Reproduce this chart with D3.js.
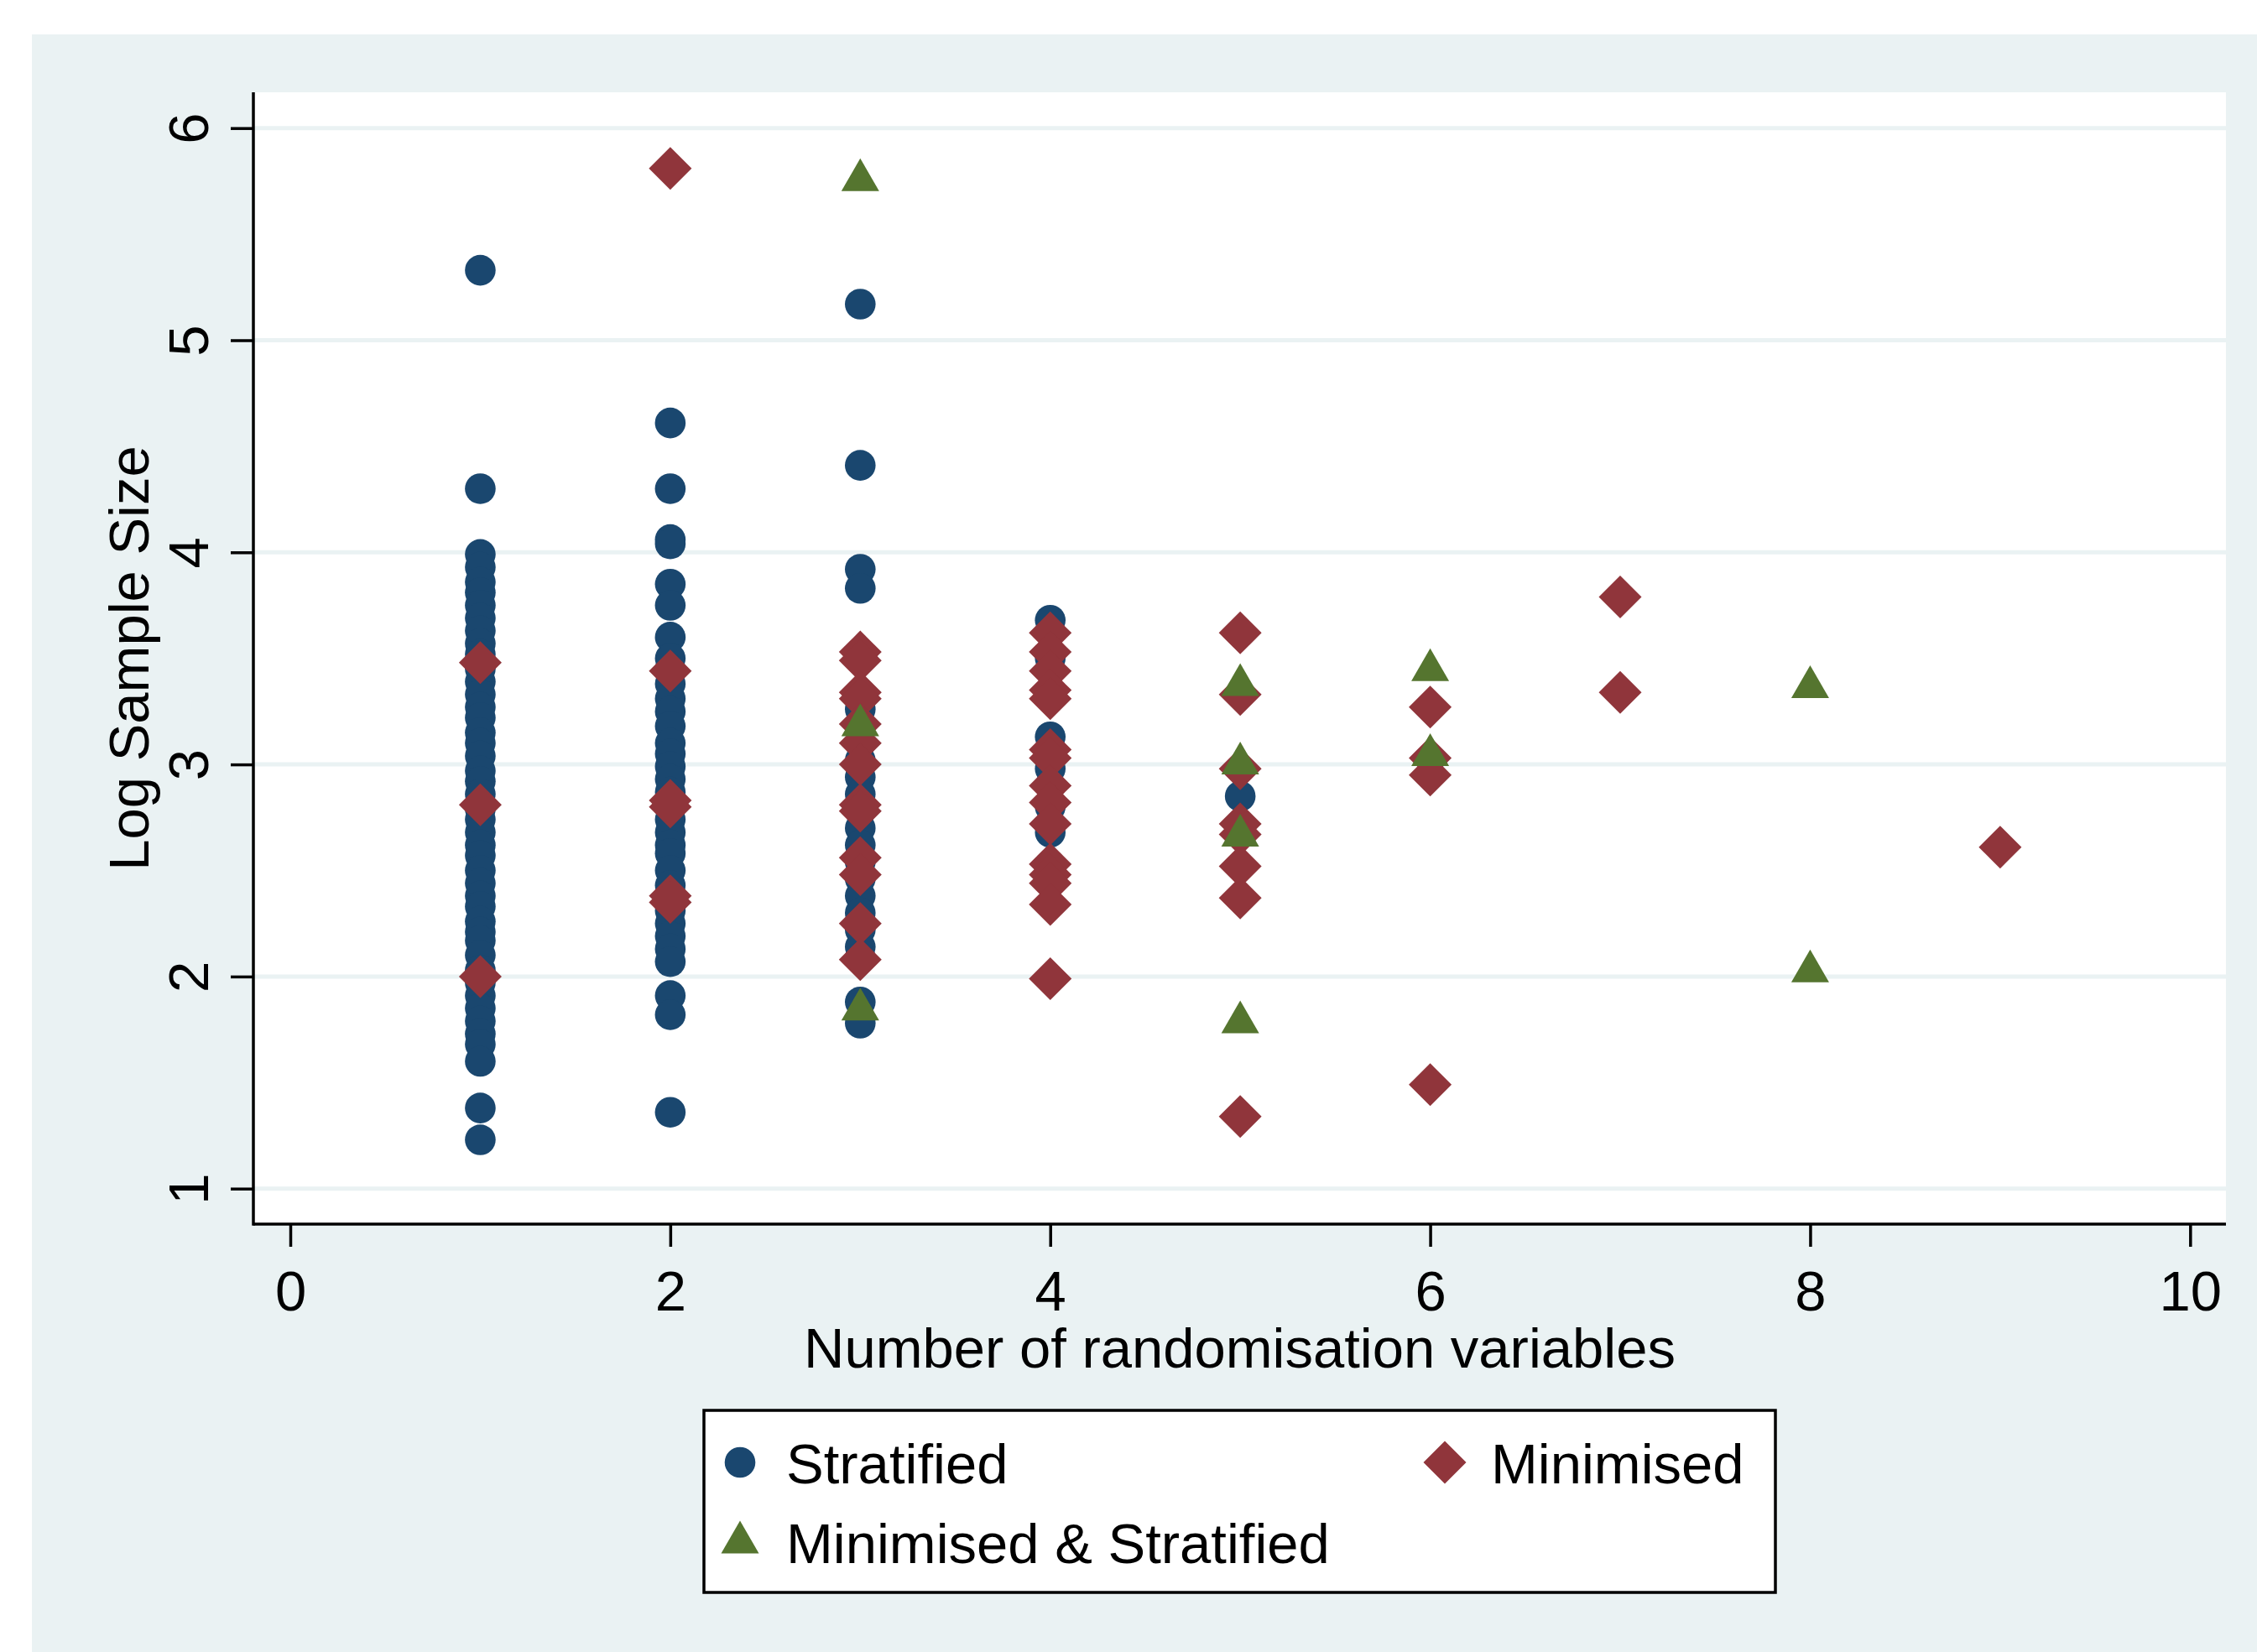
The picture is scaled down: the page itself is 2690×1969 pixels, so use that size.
<!DOCTYPE html>
<html lang="en">

<head>
  <meta charset="UTF-8">
  <title>Log Sample Size by Number of randomisation variables</title>
  <style>
    body {
      margin: 0;
      padding: 0;
      background-color: #fff;
      font-family: "Liberation Sans", Arial, Helvetica, sans-serif;
    }
  </style>
</head>

<body>
  <script src="https://cdn.jsdelivr.net/npm/d3@7"></script>
  <div id="chart"></div>

  <script>
    // ---- data ----
    // Stratified (navy circles): number of variables -> log sample size
    const stratX = [
      1, 1, 1, 1, 1, 1, 1, 1, 1, 1, 1, 1, 1, 1, 1, 1, 1, 1, 1, 1, 1, 1, 1, 1, 1, 1, 1, 1, 1, 1, 1, 1, 1, 1, 1, 1, 1, 1, 1, 1, 1, 1, 1, 1, 1,
      2, 2, 2, 2, 2, 2, 2, 2, 2, 2, 2, 2, 2, 2, 2, 2, 2, 2, 2, 2, 2, 2, 2, 2, 2, 2, 2, 2, 2, 2, 2, 2, 2, 2,
      3, 3, 3, 3, 3, 3, 3, 3, 3, 3, 3, 3, 3, 3, 3, 3, 3, 3, 3, 3, 3, 3,
      4, 4, 4, 4, 4, 4, 4, 4,
      5
    ];
    const stratY = [
      5.33, 4.30, 3.99, 3.93, 3.86, 3.81, 3.75, 3.69, 3.63, 3.57, 3.52, 3.45, 3.39, 3.33, 3.27, 3.22, 3.15, 3.10, 3.04, 2.97, 2.92, 2.86, 2.79, 2.74, 2.68, 2.62, 2.57, 2.50, 2.44, 2.38, 2.33, 2.26, 2.21, 2.17, 2.10, 2.03, 1.97, 1.91, 1.85, 1.79, 1.73, 1.68, 1.60, 1.38, 1.23,
      4.61, 4.30, 4.06, 4.04, 3.85, 3.75, 3.60, 3.50, 3.45, 3.38, 3.31, 3.25, 3.18, 3.10, 3.05, 2.99, 2.93, 2.87, 2.80, 2.74, 2.68, 2.62, 2.58, 2.50, 2.43, 2.37, 2.31, 2.25, 2.19, 2.13, 2.07, 1.91, 1.82, 1.36,
      5.17, 4.41, 3.92, 3.83, 3.26, 3.18, 3.10, 3.02, 2.94, 2.86, 2.78, 2.70, 2.62, 2.54, 2.46, 2.38, 2.30, 2.22, 2.14, 2.09, 1.88, 1.78,
      3.68, 3.50, 3.13, 3.06, 2.98, 2.90, 2.80, 2.68,
      2.85
    ];

    // Minimised (maroon diamonds)
    const minX = [
      1, 1, 1,
      2, 2, 2, 2, 2, 2,
      3, 3, 3, 3, 3, 3, 3, 3, 3, 3, 3, 3, 3,
      4, 4, 4, 4, 4, 4, 4, 4, 4, 4, 4, 4, 4, 4, 4,
      5, 5, 5, 5, 5, 5, 5, 5,
      6, 6, 6, 6,
      7, 7,
      9
    ];
    const minY = [
      3.48, 2.81, 2.00,
      5.81, 3.44, 2.83, 2.80, 2.38, 2.35,
      3.53, 3.49, 3.34, 3.31, 3.19, 3.10, 3.00, 2.81, 2.78, 2.56, 2.48, 2.25, 2.08,
      3.62, 3.53, 3.44, 3.35, 3.31, 3.07, 3.03, 2.90, 2.82, 2.72, 2.53, 2.48, 2.44, 2.34, 1.99,
      3.62, 3.33, 2.98, 2.72, 2.67, 2.52, 2.37, 1.34,
      3.27, 3.03, 2.95, 1.49,
      3.79, 3.34,
      2.61
    ];

    // Minimised & Stratified (green triangles)
    const bothX = [3, 3, 3, 5, 5, 5, 5, 6, 6, 8, 8];
    const bothY = [5.78, 3.21, 1.87, 3.40, 3.03, 2.69, 1.81, 3.47, 3.07, 3.39, 2.05];

    const xTicks = [0, 2, 4, 6, 8, 10];
    const yTicks = [1, 2, 3, 4, 5, 6];
    const legendLabels = ["Stratified", "Minimised", "Minimised & Stratified"];

    // ---- layout ----
    const width = 2690, height = 1969;
    const plotLeft = 302, plotRight = 2653, plotTop = 110, plotBottom = 1459;
    const fontSize = 67;
    const bg = "#eaf2f3";
    const navy = "#1a476f", maroon = "#90353b", green = "#55752f";

    const svg = d3.select("#chart")
      .append("svg")
      .attr("width", width)
      .attr("height", height)
      .style("display", "block")
      .style("font-family", '"Liberation Sans", Arial, Helvetica, sans-serif');

    // outer graph region
    svg.append("rect")
      .attr("x", 38).attr("y", 41)
      .attr("width", width - 38).attr("height", height - 41)
      .attr("fill", bg);

    // plot region
    svg.append("rect")
      .attr("x", plotLeft).attr("y", plotTop)
      .attr("width", plotRight - plotLeft).attr("height", plotBottom - plotTop)
      .attr("fill", "#fff");

    const x = d3.scaleLinear().domain([0, 10]).range([346, 2610.3]);
    const y = d3.scaleLinear().domain([1, 6]).range([1416.7, 152.7]);

    // grid lines
    svg.append("g")
      .selectAll("line")
      .data(yTicks)
      .enter()
      .append("line")
      .attr("x1", plotLeft).attr("x2", plotRight)
      .attr("y1", d => y(d)).attr("y2", d => y(d))
      .attr("stroke", bg)
      .attr("stroke-width", 5);

    // markers: circles first, then diamonds, then triangles on top
    const stratData = stratX.map((v, i) => ({ x: v, y: stratY[i] }));
    const minData = minX.map((v, i) => ({ x: v, y: minY[i] }));
    const bothData = bothX.map((v, i) => ({ x: v, y: bothY[i] }));

    const r = 18.3;     // circle radius
    const dHalf = 25.5; // diamond half diagonal
    const tSide = 45;   // triangle side
    const tH = tSide * Math.sqrt(3) / 2;

    const diamondPath = `M0,${-dHalf}L${dHalf},0L0,${dHalf}L${-dHalf},0Z`;
    const trianglePath = `M0,${-tH / 2}L${tSide / 2},${tH / 2}L${-tSide / 2},${tH / 2}Z`;

    svg.append("g")
      .selectAll("circle")
      .data(stratData)
      .enter()
      .append("circle")
      .attr("cx", d => x(d.x))
      .attr("cy", d => y(d.y))
      .attr("r", r)
      .attr("fill", navy);

    svg.append("g")
      .selectAll("path")
      .data(minData)
      .enter()
      .append("path")
      .attr("d", diamondPath)
      .attr("transform", d => `translate(${x(d.x)},${y(d.y)})`)
      .attr("fill", maroon);

    svg.append("g")
      .selectAll("path")
      .data(bothData)
      .enter()
      .append("path")
      .attr("d", trianglePath)
      .attr("transform", d => `translate(${x(d.x)},${y(d.y)})`)
      .attr("fill", green);

    // x axis
    const xAxis = svg.append("g")
      .attr("transform", `translate(0,${plotBottom})`)
      .call(d3.axisBottom(x).tickValues(xTicks).tickSize(27).tickPadding(28).tickFormat(d3.format("d")));
    xAxis.select(".domain").remove();
    xAxis.selectAll(".tick line").attr("stroke", "#000").attr("stroke-width", 3.5);
    xAxis.selectAll(".tick text")
      .attr("fill", "#000")
      .style("font-size", fontSize + "px")
      .style("font-family", '"Liberation Sans", Arial, Helvetica, sans-serif');

    // y axis, labels turned sideways like Stata does
    const yAxis = svg.append("g")
      .attr("transform", `translate(${plotLeft},0)`)
      .call(d3.axisLeft(y).tickValues(yTicks).tickSize(27).tickFormat(d3.format("d")));
    yAxis.select(".domain").remove();
    yAxis.selectAll(".tick line").attr("stroke", "#000").attr("stroke-width", 3.5);
    yAxis.selectAll(".tick text")
      .attr("x", null)
      .attr("dy", null)
      .attr("text-anchor", "middle")
      .attr("transform", "translate(-54,0) rotate(-90)")
      .attr("fill", "#000")
      .style("font-size", fontSize + "px")
      .style("font-family", '"Liberation Sans", Arial, Helvetica, sans-serif');

    // axis lines span the whole plot region
    svg.append("line")
      .attr("x1", plotLeft).attr("x2", plotRight)
      .attr("y1", plotBottom).attr("y2", plotBottom)
      .attr("stroke", "#000").attr("stroke-width", 3.5);
    svg.append("line")
      .attr("x1", plotLeft).attr("x2", plotLeft)
      .attr("y1", plotTop).attr("y2", plotBottom + 1.7)
      .attr("stroke", "#000").attr("stroke-width", 3.5);

    // axis titles
    svg.append("text")
      .attr("x", (plotLeft + plotRight) / 2)
      .attr("y", 1630)
      .attr("text-anchor", "middle")
      .style("font-size", fontSize + "px")
      .text("Number of randomisation variables");

    svg.append("text")
      .attr("transform", `translate(177,${(plotTop + plotBottom) / 2}) rotate(-90)`)
      .attr("text-anchor", "middle")
      .style("font-size", fontSize + "px")
      .text("Log Sample Size");

    // legend
    const legend = svg.append("g");
    legend.append("rect")
      .attr("x", 839).attr("y", 1681)
      .attr("width", 1277).attr("height", 217)
      .attr("fill", "#fff")
      .attr("stroke", "#000")
      .attr("stroke-width", 3.5);

    const legendItems = [
      { label: legendLabels[0], shape: "circle", color: navy, mx: 882, my: 1743, tx: 937, ty: 1768 },
      { label: legendLabels[1], shape: "diamond", color: maroon, mx: 1722, my: 1743, tx: 1777, ty: 1768 },
      { label: legendLabels[2], shape: "triangle", color: green, mx: 882, my: 1832, tx: 937, ty: 1863 }
    ];

    legendItems.forEach(item => {
      if (item.shape === "circle") {
        legend.append("circle")
          .attr("cx", item.mx).attr("cy", item.my).attr("r", r)
          .attr("fill", item.color);
      } else {
        legend.append("path")
          .attr("d", item.shape === "diamond" ? diamondPath : trianglePath)
          .attr("transform", `translate(${item.mx},${item.my})`)
          .attr("fill", item.color);
      }
      legend.append("text")
        .attr("x", item.tx).attr("y", item.ty)
        .style("font-size", fontSize + "px")
        .text(item.label);
    });
  </script>
</body>

</html>
